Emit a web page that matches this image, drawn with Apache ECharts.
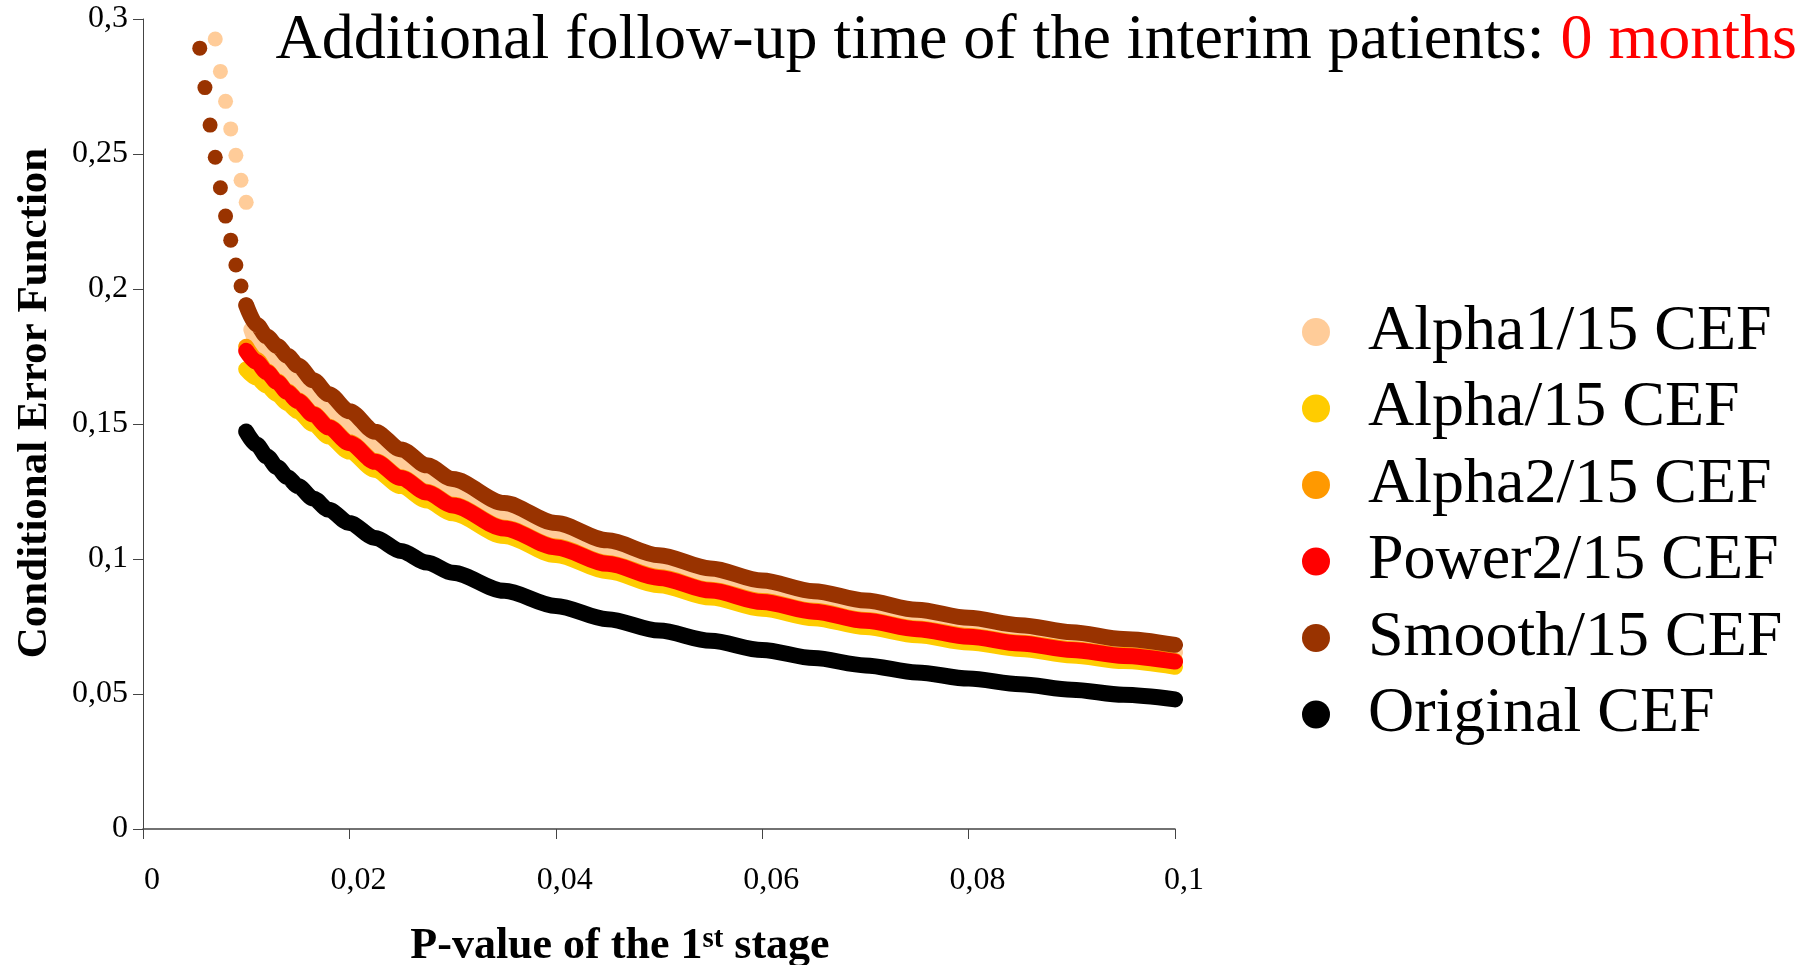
<!DOCTYPE html>
<html>
<head>
<meta charset="utf-8">
<script src="https://cdn.jsdelivr.net/npm/echarts@6/dist/echarts.min.js"></script>
<style>
html,body{margin:0;padding:0;background:#fff;}
#chart{width:1814px;height:965px;}
</style>
</head>
<body>
<div id="chart"></div>
<script>
// ---- data ----
const xTickLabels = ['0', '0,02', '0,04', '0,06', '0,08', '0,1'];
const yTickLabels = ['0', '0,05', '0,1', '0,15', '0,2', '0,25', '0,3'];
const seriesNames = ['Alpha1/15 CEF', 'Alpha/15 CEF', 'Alpha2/15 CEF', 'Power2/15 CEF', 'Smooth/15 CEF', 'Original CEF'];

// p-values of the dense part of every curve
const pGrid = [0.010, 0.011, 0.012, 0.013, 0.014, 0.015, 0.0165, 0.018, 0.020, 0.0225, 0.025, 0.0275, 0.030,
  0.035, 0.040, 0.045, 0.050, 0.055, 0.060, 0.065, 0.070, 0.075, 0.080, 0.085, 0.090, 0.095, 0.100];
const alpha1BandP = [0.0105, 0.011, 0.012, 0.013, 0.014, 0.015, 0.0165, 0.018, 0.020, 0.0225, 0.025, 0.0275, 0.030,
  0.035, 0.040, 0.045, 0.050, 0.055, 0.060, 0.065, 0.070, 0.075, 0.080, 0.085, 0.090, 0.095, 0.100];

const alpha1Band = [0.1850, 0.1806, 0.1765, 0.1729, 0.1692, 0.1658, 0.1605, 0.1555, 0.1494, 0.1421, 0.1358, 0.1302, 0.1252,
  0.1165, 0.1093, 0.1030, 0.0976, 0.0928, 0.0884, 0.0847, 0.0812, 0.0780, 0.0751, 0.0724, 0.0699, 0.0676, 0.0654];
const alphaCEF = [0.1703, 0.1672, 0.1642, 0.1610, 0.1577, 0.1547, 0.1500, 0.1454, 0.1398, 0.1330, 0.1270, 0.1217, 0.1169,
  0.1085, 0.1015, 0.0955, 0.0903, 0.0857, 0.0816, 0.0781, 0.0748, 0.0718, 0.0691, 0.0667, 0.0643, 0.0622, 0.0601];
const alpha2CEF = [0.1786, 0.1738, 0.1695, 0.1658, 0.1621, 0.1588, 0.1538, 0.1490, 0.1432, 0.1363, 0.1303, 0.1249, 0.1201,
  0.1116, 0.1046, 0.0985, 0.0933, 0.0886, 0.0844, 0.0808, 0.0774, 0.0743, 0.0715, 0.0690, 0.0666, 0.0644, 0.0623];
const power2CEF = [0.1771, 0.1730, 0.1692, 0.1655, 0.1618, 0.1585, 0.1535, 0.1487, 0.1429, 0.1360, 0.1300, 0.1246, 0.1198,
  0.1113, 0.1043, 0.0982, 0.0930, 0.0883, 0.0841, 0.0805, 0.0771, 0.0740, 0.0712, 0.0687, 0.0663, 0.0641, 0.0620];
const smoothBand = [0.1940, 0.1868, 0.1824, 0.1789, 0.1753, 0.1717, 0.1662, 0.1610, 0.1547, 0.1471, 0.1406, 0.1347, 0.1296,
  0.1207, 0.1133, 0.1069, 0.1014, 0.0965, 0.0920, 0.0881, 0.0846, 0.0812, 0.0782, 0.0755, 0.0729, 0.0704, 0.0682];
const originalCEF = [0.1472, 0.1424, 0.1380, 0.1340, 0.1303, 0.1270, 0.1224, 0.1182, 0.1133, 0.1078, 0.1030, 0.0987, 0.0949,
  0.0882, 0.0826, 0.0777, 0.0735, 0.0697, 0.0663, 0.0633, 0.0606, 0.0580, 0.0557, 0.0536, 0.0516, 0.0497, 0.0480];

// isolated dots at small p-values (upper left)
const alpha1DotsP = [0.0070, 0.0075, 0.0080, 0.0085, 0.0090, 0.0095, 0.0100];
const alpha1Dots  = [0.2926, 0.2806, 0.2695, 0.2593, 0.2495, 0.2403, 0.2321];
const smoothDotsP = [0.0055, 0.0060, 0.0065, 0.0070, 0.0075, 0.0080, 0.0085, 0.0090, 0.0095, 0.0100];
const smoothDots  = [0.2892, 0.2746, 0.2607, 0.2488, 0.2375, 0.2270, 0.2181, 0.2089, 0.2011, 0.1941];

const colors = {
  alpha1: '#FFCC99', alpha: '#FFCC00', alpha2: '#FF9900', power2: '#FF0000', smooth: '#993300', original: '#000000'
};

// ---- chart ----
const FONT = '"Liberation Serif", "Times New Roman", serif';
const pairs = (xs, ys) => xs.map((x, i) => [x, ys[i]]);

function band(name, color, xs, ys) {
  return {
    name: name, type: 'line', data: pairs(xs, ys),
    showSymbol: false, symbol: 'none', smooth: 0.3, smoothMonotone: 'x',
    color: color,
    itemStyle: { color: color },
    lineStyle: { color: color, width: 16, cap: 'round', join: 'round' },
    silent: true, animation: false
  };
}
function dots(name, color, xs, ys) {
  return {
    name: name, type: 'scatter', data: pairs(xs, ys),
    symbol: 'circle', symbolSize: 15, color: color,
    itemStyle: { color: color, opacity: 1 },
    silent: true, animation: false
  };
}

const chart = echarts.init(document.getElementById('chart'), null, { renderer: 'canvas' });
chart.setOption({
  backgroundColor: '#ffffff',
  animation: false,
  title: {
    text: '{a|Additional follow-up time of the interim patients: }{b|0 months}',
    right: 17, top: 9, padding: 0,
    textStyle: {
      fontFamily: FONT, fontSize: 64, fontWeight: 'normal',
      rich: {
        a: { fontFamily: FONT, fontSize: 64, lineHeight: 64, color: '#000000' },
        b: { fontFamily: FONT, fontSize: 64, lineHeight: 64, color: '#FF0000' }
      }
    }
  },
  legend: {
    data: seriesNames,
    orient: 'vertical',
    left: 1302, top: 300, padding: 0,
    icon: 'circle', itemWidth: 94, itemHeight: 28, itemGap: 12.5,
    itemStyle: { borderWidth: 0 },
    selectedMode: false,
    textStyle: { fontFamily: FONT, fontSize: 64, lineHeight: 52, color: '#000000', padding: [12, 0, 0, 0] }
  },
  grid: { left: 143, top: 19, width: 1032, height: 810, containLabel: false, outerBoundsMode: 'none' },
  xAxis: {
    type: 'value', min: 0, max: 0.1, interval: 0.02,
    name: '{n|P-value of the 1}{s|st}{n| stage}',
    nameLocation: 'middle', nameGap: 96,
    nameTextStyle: {
      padding: [0, 78, 0, 0],
      rich: {
        n: { fontFamily: FONT, fontSize: 44, fontWeight: 'bold', lineHeight: 44, color: '#000' },
        s: { fontFamily: FONT, fontSize: 29, fontWeight: 'bold', lineHeight: 29, verticalAlign: 'top', color: '#000' }
      }
    },
    splitLine: { show: false },
    axisLine: { show: true, lineStyle: { color: '#444', width: 1.5 } },
    axisTick: { show: true, length: 10, lineStyle: { color: '#444', width: 1 } },
    axisLabel: {
      fontFamily: FONT, fontSize: 32, color: '#000', margin: 36, padding: [0, 0, 0, 18],
      formatter: v => xTickLabels[Math.round(v / 0.02)]
    }
  },
  yAxis: {
    type: 'value', min: 0, max: 0.3, interval: 0.05,
    name: 'Conditional Error Function',
    nameLocation: 'middle', nameGap: 87,
    nameTextStyle: { fontFamily: FONT, fontSize: 43, fontWeight: 'bold', color: '#000', lineHeight: 43, padding: [0, 0, 0, 42] },
    splitLine: { show: false },
    axisLine: { show: true, lineStyle: { color: '#444', width: 1 } },
    axisTick: { show: true, length: 10, lineStyle: { color: '#444', width: 1 } },
    axisLabel: {
      fontFamily: FONT, fontSize: 32, color: '#000', margin: 15, padding: [16, 0, 0, 0],
      formatter: v => yTickLabels[Math.round(v / 0.05)]
    }
  },
  series: [
    band(seriesNames[0], colors.alpha1, alpha1BandP, alpha1Band),
    dots(seriesNames[0], colors.alpha1, alpha1DotsP, alpha1Dots),
    band(seriesNames[1], colors.alpha, pGrid, alphaCEF),
    band(seriesNames[2], colors.alpha2, pGrid, alpha2CEF),
    band(seriesNames[3], colors.power2, pGrid, power2CEF),
    band(seriesNames[4], colors.smooth, pGrid, smoothBand),
    dots(seriesNames[4], colors.smooth, smoothDotsP, smoothDots),
    band(seriesNames[5], colors.original, pGrid, originalCEF)
  ]
});
</script>
</body>
</html>
